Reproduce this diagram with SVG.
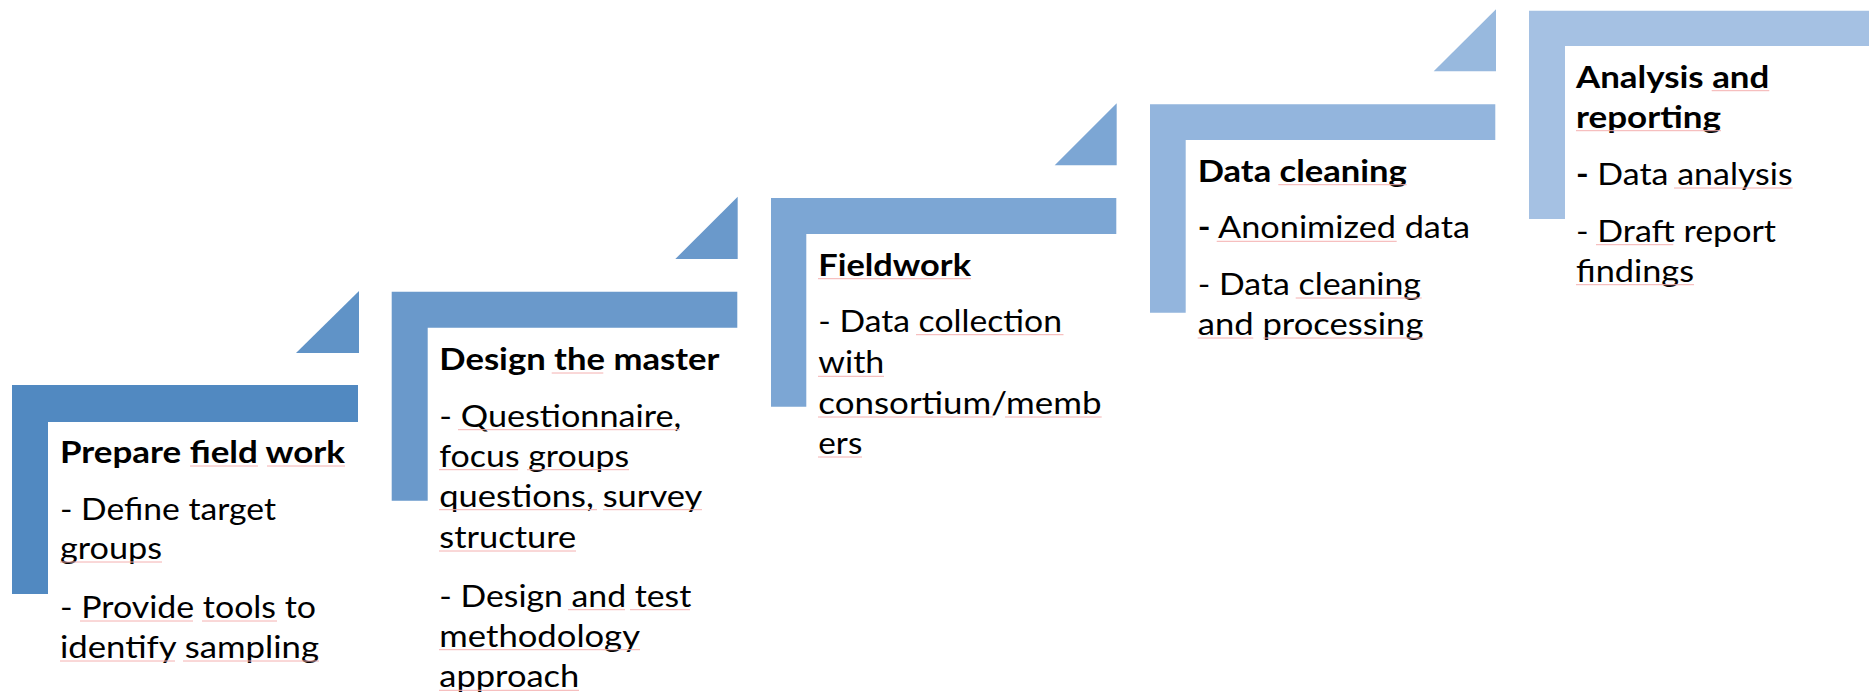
<svg xmlns="http://www.w3.org/2000/svg" width="1869" height="694" viewBox="0 0 1869 694">
<style>
text{font-family:Lato,"Liberation Sans","DejaVu Sans",sans-serif;font-size:30px;fill:#000}
.b{font-weight:bold}
.sq{fill:none;stroke:#F4B0B0;stroke-width:1}
.c1{fill:#5189C1}.t1{fill:#6093C7}
.c2{fill:#6A99CB}.c3{fill:#7CA6D4}.c4{fill:#93B5DD}.t4{fill:#98B9DE}.c5{fill:#A5C1E3}
</style>
<rect width="1869" height="694" fill="#fff"/>
<g id="step1">
<path class="c1" d="M12,385H358V422H48V594H12Z"/>
<path class="t1" d="M296,353L359,291V353Z"/>
<text x="60" y="463" class="b" textLength="285" lengthAdjust="spacingAndGlyphs">Prepare field work</text>
<text x="60" y="520" textLength="216" lengthAdjust="spacingAndGlyphs">- Define target</text>
<text x="60" y="559" textLength="102" lengthAdjust="spacingAndGlyphs">groups</text>
<text x="60" y="618" textLength="256" lengthAdjust="spacingAndGlyphs">- Provide tools to</text>
<text x="60" y="658" textLength="259" lengthAdjust="spacingAndGlyphs">identify sampling</text>
<path class="sq" d="M190,466H258M267,466H345M60,562H162M80,621H193M202,621H277M60,661H175M183,661H319"/>
</g>
<g id="step2">
<path class="c2" d="M391.7,291.7H737.3V327.7H427.7V500.7H391.7Z"/>
<path class="c2" d="M675.3,259L737.7,196.7V259Z"/>
<text x="439.3" y="370" class="b" textLength="280" lengthAdjust="spacingAndGlyphs">Design the master</text>
<text x="439.3" y="426.7" textLength="242" lengthAdjust="spacingAndGlyphs">- Questionnaire,</text>
<text x="439.3" y="466.7" textLength="190" lengthAdjust="spacingAndGlyphs">focus groups</text>
<text x="439.3" y="506.7" textLength="263" lengthAdjust="spacingAndGlyphs">questions, survey</text>
<text x="439.3" y="548" textLength="137" lengthAdjust="spacingAndGlyphs">structure</text>
<text x="439.3" y="606.7" textLength="252" lengthAdjust="spacingAndGlyphs">- Design and test</text>
<text x="439.3" y="646.7" textLength="200.7" lengthAdjust="spacingAndGlyphs">methodology</text>
<text x="439.3" y="687.3" textLength="140" lengthAdjust="spacingAndGlyphs">approach</text>
<path class="sq" d="M551.7,373H603.3M458,429.7H680M439,469.7H518M527,469.7H629M439,509.7H597M603,509.7H702M439,551H576M568,609.7H625M630,609.7H690M439,649.7H640M439,690.3H579"/>
</g>
<g id="step3">
<path class="c3" d="M771,198H1116.3V234H806.3V406.7H771Z"/>
<path class="c3" d="M1054.7,165.3L1116.7,103.3V165.3Z"/>
<text x="818.3" y="275.7" class="b" textLength="152.7" lengthAdjust="spacingAndGlyphs">Fieldwork</text>
<text x="818.3" y="331.7" textLength="243.7" lengthAdjust="spacingAndGlyphs">- Data collection</text>
<text x="818.3" y="373.3" textLength="66" lengthAdjust="spacingAndGlyphs">with</text>
<text x="818.3" y="414" textLength="283.3" lengthAdjust="spacingAndGlyphs">consortium/memb</text>
<text x="818.3" y="454" textLength="44" lengthAdjust="spacingAndGlyphs">ers</text>
<path class="sq" d="M818,278.7H971M916,334.7H1063.5M818,376.3H884M818,417H993M1005,417H1101.7M818,457H862"/>
</g>
<g id="step4">
<path class="c4" d="M1150,104.3H1495.3V140H1185.7V312.7H1150Z"/>
<path class="t4" d="M1433.7,71.3L1496,9.3V71.3Z"/>
<text x="1197.7" y="181.7" class="b" textLength="209" lengthAdjust="spacingAndGlyphs">Data cleaning</text>
<text x="1197.7" y="238.3" textLength="272.3" lengthAdjust="spacingAndGlyphs"><tspan class="b">-</tspan> Anonimized data</text>
<text x="1197.7" y="295" textLength="223.3" lengthAdjust="spacingAndGlyphs">- Data cleaning</text>
<text x="1197.7" y="335" textLength="225.7" lengthAdjust="spacingAndGlyphs">and processing</text>
<path class="sq" d="M1278.3,184.7H1406.7M1216.7,241.3H1396.7M1295.7,298H1421.7M1197.7,338H1253.3M1263.3,338H1423.3"/>
</g>
<g id="step5">
<path class="c5" d="M1529,10.7H1869V46H1565V219H1529Z"/>
<text x="1576" y="87.7" class="b" textLength="193.3" lengthAdjust="spacingAndGlyphs">Analysis and</text>
<text x="1576" y="127.7" class="b" textLength="145" lengthAdjust="spacingAndGlyphs">reporting</text>
<text x="1576" y="185" textLength="216.7" lengthAdjust="spacingAndGlyphs"><tspan class="b">-</tspan> Data analysis</text>
<text x="1576" y="241.7" textLength="200" lengthAdjust="spacingAndGlyphs">- Draft report</text>
<text x="1576" y="281.7" textLength="118" lengthAdjust="spacingAndGlyphs">findings</text>
<path class="sq" d="M1711.7,90.7H1769.3M1576,130.7H1721M1674,188H1792.7M1596,244.7H1673.3M1576,284.7H1694"/>
</g>
<g id="connectors"/>
</svg>
